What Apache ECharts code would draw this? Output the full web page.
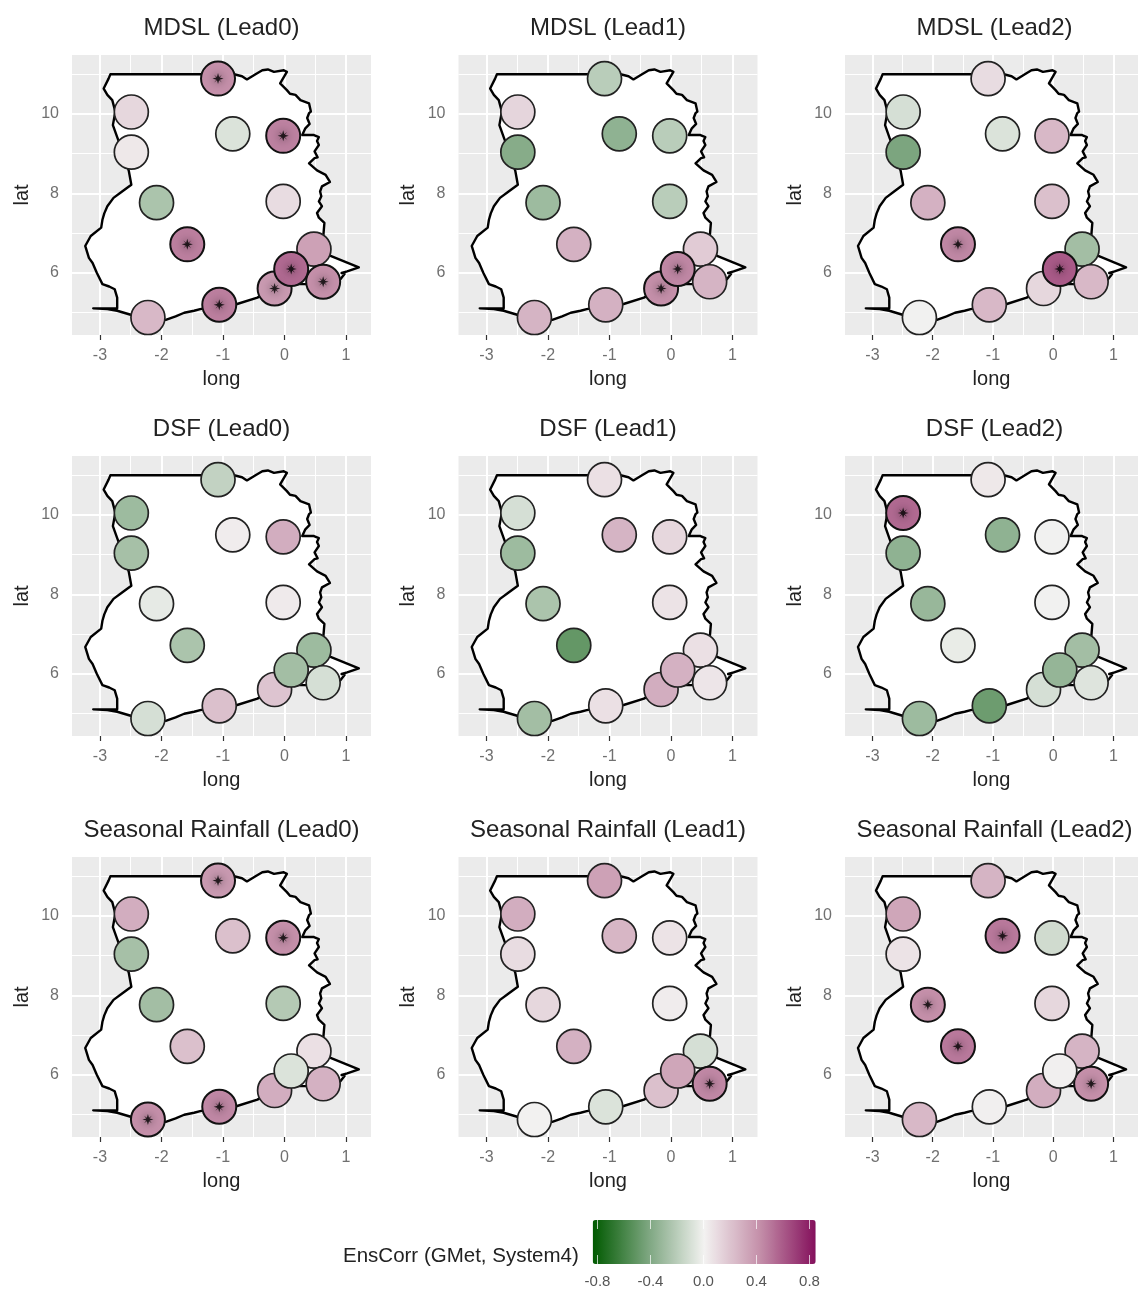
<!DOCTYPE html>
<html>
<head>
<meta charset="utf-8">
<title>EnsCorr maps</title>
<script src="https://cdn.jsdelivr.net/npm/echarts@6/dist/echarts.min.js"></script>
<style>
  html, body { margin: 0; padding: 0; background: #fff; overflow: hidden; }
  #chart { width: 1138px; height: 1289px; filter: blur(0.5px); }
</style>
</head>
<body>
<div id="chart"></div>
<script>
// station positions, listed in the order the circles overlap
const stationLon = [-1.08, -2.49, -2.49, -0.84, -0.02, -2.08, -0.02, -1.58, -1.06, -2.22, 0.48, 0.63, -0.16, 0.11]
const stationLat = [10.89, 10.05, 9.04, 9.50, 9.45, 7.77, 7.80, 6.72, 5.20, 4.88, 6.60, 5.78, 5.61, 6.10]

// correlation per station
const mdslLead0 = [0.42, 0.12, 0.05, -0.08, 0.47, -0.25, 0.10, 0.48, 0.48, 0.25, 0.35, 0.42, 0.38, 0.55]
const mdslLead1 = [-0.20, 0.13, -0.38, -0.35, -0.20, -0.30, -0.20, 0.28, 0.28, 0.27, 0.17, 0.27, 0.42, 0.45]
const mdslLead2 = [0.10, -0.10, -0.42, -0.08, 0.25, 0.28, 0.22, 0.45, 0.25, 0.00, -0.28, 0.25, 0.12, 0.60]
const dsfLead0 = [-0.17, -0.30, -0.27, 0.03, 0.30, -0.04, 0.04, -0.25, 0.22, -0.10, -0.30, -0.10, 0.20, -0.28]
const dsfLead1 = [0.08, -0.10, -0.30, 0.27, 0.12, -0.25, 0.07, -0.50, 0.08, -0.28, 0.08, 0.06, 0.30, 0.28]
const dsfLead2 = [0.05, 0.55, -0.35, -0.35, 0.00, -0.32, 0.00, -0.03, -0.47, -0.30, -0.28, -0.07, -0.10, -0.33]
const rainLead0 = [0.38, 0.30, -0.27, 0.22, 0.42, -0.28, -0.22, 0.22, 0.45, 0.42, 0.08, 0.28, 0.30, -0.08]
const rainLead1 = [0.35, 0.30, 0.10, 0.26, 0.07, 0.12, 0.03, 0.28, -0.08, 0.01, -0.10, 0.45, 0.22, 0.33]
const rainLead2 = [0.27, 0.33, 0.07, 0.50, -0.12, 0.42, 0.12, 0.50, 0.02, 0.25, 0.27, 0.42, 0.30, 0.02]

// stations marked significant (index into the lists above)
const sigMdsl0 = [0, 4, 7, 8, 11, 12, 13]
const sigMdsl1 = [12, 13]
const sigMdsl2 = [7, 13]
const sigDsf0 = []
const sigDsf1 = []
const sigDsf2 = [1]
const sigRain0 = [0, 4, 8, 9]
const sigRain1 = [11]
const sigRain2 = [3, 5, 7, 11]

const panelTitles = [
  'MDSL (Lead0)', 'MDSL (Lead1)', 'MDSL (Lead2)',
  'DSF (Lead0)', 'DSF (Lead1)', 'DSF (Lead2)',
  'Seasonal Rainfall (Lead0)', 'Seasonal Rainfall (Lead1)', 'Seasonal Rainfall (Lead2)'
]
const panelValues = [mdslLead0, mdslLead1, mdslLead2, dsfLead0, dsfLead1, dsfLead2, rainLead0, rainLead1, rainLead2]
const panelSig = [sigMdsl0, sigMdsl1, sigMdsl2, sigDsf0, sigDsf1, sigDsf2, sigRain0, sigRain1, sigRain2]

// country outline, lon / lat
const outline = [
  [-3.11, 5.11], [-2.88, 5.09], [-2.72, 5.05], [-2.50, 4.95], [-2.22, 4.86], [-1.93, 4.82], [-1.77, 4.91], [-1.63, 5.00],
  [-1.47, 5.05], [-1.37, 5.09], [-1.06, 5.17], [-0.77, 5.22], [-0.44, 5.38], [-0.16, 5.62], [0.11, 5.72], [0.63, 5.72],
  [0.91, 5.84], [0.98, 5.98], [0.93, 6.00], [1.02, 6.04], [1.21, 6.14], [0.75, 6.43], [0.62, 6.70], [0.65, 7.26],
  [0.56, 7.39], [0.53, 7.51], [0.61, 7.68], [0.56, 7.80], [0.60, 7.93], [0.58, 8.05], [0.61, 8.18], [0.74, 8.29], [0.67, 8.47],
  [0.53, 8.58], [0.40, 8.76], [0.49, 8.89], [0.54, 8.91], [0.49, 9.06], [0.56, 9.22], [0.53, 9.32], [0.56, 9.42], [0.48, 9.47],
  [0.29, 9.47], [0.34, 9.64], [0.41, 9.75], [0.37, 9.90], [0.40, 10.02], [0.43, 10.06], [0.40, 10.27], [0.26, 10.35], [0.18, 10.48],
  [0.09, 10.51], [0.04, 10.60], [-0.07, 10.77], [0.04, 11.06], [-0.01, 11.10], [-0.17, 11.06], [-0.27, 11.12], [-0.36, 11.10], [-0.47, 11.00],
  [-0.61, 10.87], [-0.69, 10.95], [-0.82, 11.00], [-1.37, 11.00], [-2.83, 11.00], [-2.86, 10.89], [-2.94, 10.64],
  [-2.88, 10.48], [-2.80, 10.35], [-2.75, 10.06], [-2.79, 9.72], [-2.72, 9.42], [-2.62, 9.00], [-2.53, 8.56], [-2.49, 8.22],
  [-2.64, 8.05], [-2.78, 7.89], [-2.88, 7.68], [-2.93, 7.50], [-2.96, 7.34], [-2.98, 7.14], [-3.15, 6.93], [-3.24, 6.68], [-3.18, 6.38],
  [-3.12, 6.25], [-3.05, 6.00], [-2.96, 5.72], [-2.85, 5.66], [-2.76, 5.59], [-2.72, 5.38], [-2.72, 5.11]
]

const xMajor = [-3, -2, -1, 0, 1]
const xMinor = [-2.5, -1.5, -0.5, 0.5]
const yMajor = [6, 8, 10]
const yMinor = [5, 7, 9, 11]

const legendTicks = [-0.8, -0.4, 0, 0.4, 0.8]
const legendColors = ['#005a00', '#7da680', '#f3f2f1', '#c48fa9', '#84105c']

const fontName = '"Liberation Sans", Arial, sans-serif'
const colLeft = [72, 458.5, 845]
const rowTop = [55, 456, 857]
const panelWidth = 299
const panelHeight = 280
const lonRange = [-3.455, 1.408]
const latRange = [4.44, 11.484]

const starPath = 'path://M10 0L12 7L17 3L13 8L20 10L13 12L17 17L12 13L10 20L8 13L3 17L7 12L0 10L7 8L3 3L8 7Z'

const grids = []
const xAxes = []
const yAxes = []
const titles = []
const series = []
const mapSeries = []

function gridLine (width) {
  return { show: true, lineStyle: { color: '#ffffff', width: width } }
}

panelTitles.forEach((name, p) => {
  const col = p % 3
  const row = Math.floor(p / 3)
  const left = colLeft[col]
  const top = rowTop[row]

  grids.push({ left: left, top: top, width: panelWidth, height: panelHeight, backgroundColor: '#ebebeb', show: true, borderWidth: 0 })
  titles.push({
    text: name,
    left: left + panelWidth / 2,
    top: top - 39,
    padding: 0,
    textAlign: 'center',
    textStyle: { fontFamily: fontName, fontSize: 24, fontWeight: 'normal', color: '#222222' }
  })

  // major lines and labels on one axis, thin minor lines on a second hidden one
  xAxes.push({
    type: 'value', gridIndex: p, min: lonRange[0], max: lonRange[1],
    name: 'long', nameLocation: 'middle', nameGap: 34,
    nameTextStyle: { fontFamily: fontName, fontSize: 20, color: '#222222' },
    axisLine: { show: false },
    axisTick: { show: true, length: 5, customValues: xMajor, lineStyle: { color: '#333', width: 1.2 } },
    axisLabel: { customValues: xMajor, fontFamily: fontName, fontSize: 16, color: '#707070', margin: 13 },
    splitLine: gridLine(2)
  })
  xAxes.push({
    type: 'value', gridIndex: p, min: lonRange[0], max: lonRange[1],
    axisLine: { show: false },
    axisTick: { show: false, customValues: xMinor },
    axisLabel: { show: false },
    splitLine: gridLine(1)
  })
  yAxes.push({
    type: 'value', gridIndex: p, min: latRange[0], max: latRange[1],
    name: 'lat', nameLocation: 'middle', nameGap: 40,
    nameTextStyle: { fontFamily: fontName, fontSize: 20, color: '#222222' },
    axisLine: { show: false },
    axisTick: { show: true, length: 5, customValues: yMajor, lineStyle: { color: '#333', width: 1.2 } },
    axisLabel: { customValues: yMajor, fontFamily: fontName, fontSize: 16, color: '#707070', margin: 13 },
    splitLine: gridLine(2)
  })
  yAxes.push({
    type: 'value', gridIndex: p, min: latRange[0], max: latRange[1],
    axisLine: { show: false },
    axisTick: { show: false, customValues: yMinor },
    axisLabel: { show: false },
    splitLine: gridLine(1)
  })

  series.push({
    type: 'custom',
    coordinateSystem: 'cartesian2d',
    xAxisIndex: p * 2,
    yAxisIndex: p * 2,
    silent: true,
    z: 2,
    clip: false,
    data: [outline[0]],
    renderItem: (params, api) => ({
      type: 'polygon',
      shape: { points: outline.map(pt => api.coord(pt)) },
      style: { fill: '#ffffff', stroke: '#000000', lineWidth: 2.4, lineJoin: 'round' }
    })
  })

  mapSeries.push(series.length)
  series.push({
    type: 'scatter',
    xAxisIndex: p * 2,
    yAxisIndex: p * 2,
    z: 3,
    symbolSize: 34,
    itemStyle: { opacity: 1, borderColor: '#222222', borderWidth: 1.7 },
    data: panelValues[p].map((v, i) => {
      const point = { value: [stationLon[i], stationLat[i], v] }
      if (panelSig[p].includes(i)) point.itemStyle = { borderColor: '#111111', borderWidth: 2 }
      return point
    })
  })

  series.push({
    type: 'scatter',
    xAxisIndex: p * 2,
    yAxisIndex: p * 2,
    z: 4,
    symbol: starPath,
    symbolSize: 11,
    itemStyle: { color: '#000000', shadowBlur: 10, shadowColor: 'rgba(0, 0, 0, 0.9)' },
    data: panelSig[p].map(i => [stationLon[i], stationLat[i]])
  })
})

// colour bar: the bar itself is the visualMap, the ticks come from an axis on top of it
const legendGrid = grids.length
grids.push({ left: 592.7, top: 1220, width: 223, height: 44, show: false })
xAxes.push({
  type: 'value', gridIndex: legendGrid, position: 'bottom', min: -0.836, max: 0.847, z: 6,
  axisLine: { show: false },
  axisTick: { show: true, inside: true, length: 9, customValues: legendTicks, lineStyle: { color: 'rgba(255, 255, 255, 0.7)', width: 1 } },
  axisLabel: { customValues: legendTicks, formatter: v => v.toFixed(1), fontFamily: fontName, fontSize: 15, color: '#555555', margin: 10 },
  splitLine: { show: false }
})
xAxes.push({
  type: 'value', gridIndex: legendGrid, position: 'top', min: -0.836, max: 0.847, z: 6,
  axisLine: { show: false },
  axisTick: { show: true, inside: true, length: 9, customValues: legendTicks, lineStyle: { color: 'rgba(255, 255, 255, 0.7)', width: 1 } },
  axisLabel: { show: false },
  splitLine: { show: false }
})
yAxes.push({ type: 'value', gridIndex: legendGrid, min: 0, max: 1, show: false })

titles.push({
  text: 'EnsCorr (GMet, System4)',
  left: 343,
  top: 1246,
  padding: 0,
  textStyle: { fontFamily: fontName, fontSize: 20.5, fontWeight: 'normal', color: '#222222' }
})

const chart = echarts.init(document.getElementById('chart'))
chart.setOption({
  animation: false,
  backgroundColor: '#ffffff',
  title: titles,
  grid: grids,
  xAxis: xAxes,
  yAxis: yAxes,
  visualMap: {
    type: 'continuous',
    seriesIndex: mapSeries,
    dimension: 2,
    min: -0.836,
    max: 0.847,
    orient: 'horizontal',
    left: 592.7,
    top: 1220,
    padding: 0,
    itemWidth: 44,
    itemHeight: 223,
    text: null,
    showLabel: false,
    calculable: false,
    realtime: false,
    hoverLink: false,
    z: 1,
    inRange: { color: legendColors }
  },
  series: series
})

window.addEventListener('resize', () => chart.resize())
</script>
</body>
</html>
